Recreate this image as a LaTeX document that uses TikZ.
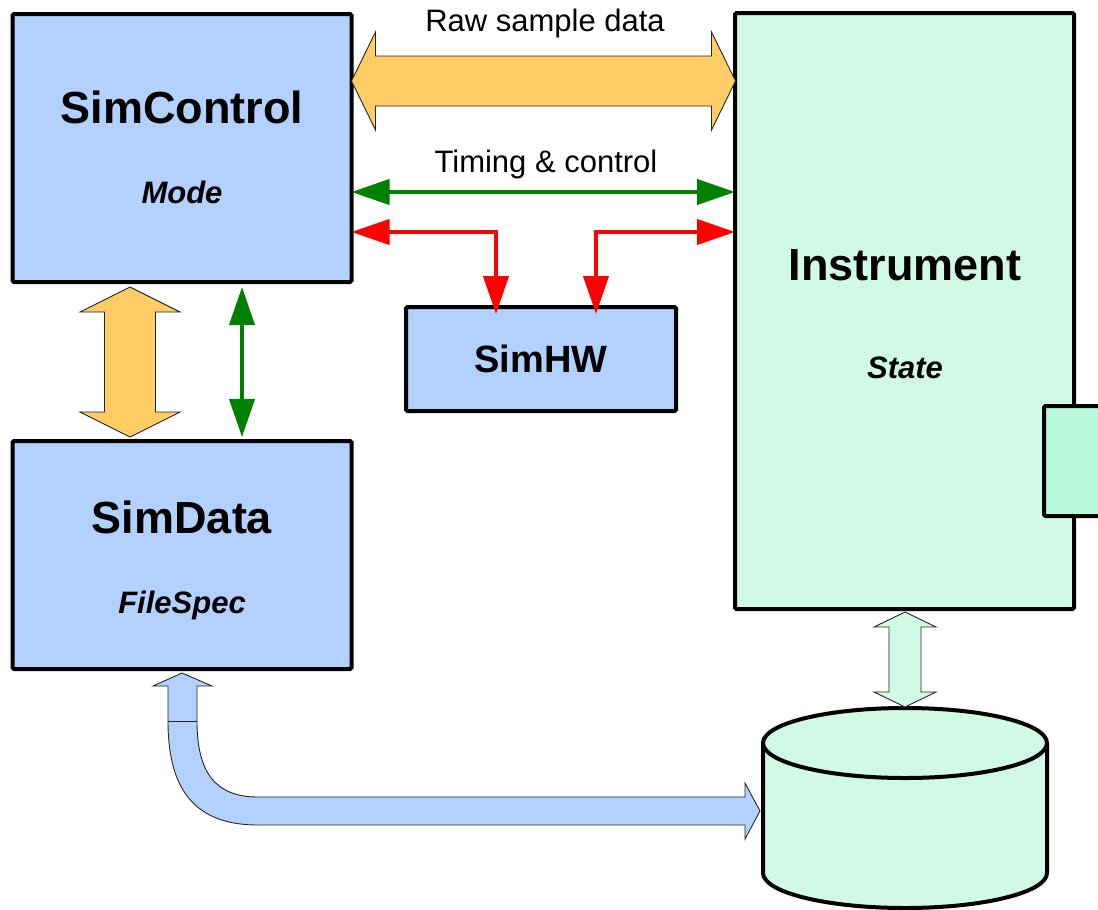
\documentclass[tikz,border=0pt]{standalone}
\usepackage{fontspec}
\setmainfont{Liberation Sans}
\usetikzlibrary{positioning,arrows.meta,calc}
\definecolor{simblue}{HTML}{B3D1FF}
\definecolor{simgreen}{HTML}{D0FAE6}
\definecolor{simport}{HTML}{B9F8DA}
\definecolor{simorange}{HTML}{FFCC66}
\definecolor{ctlgreen}{HTML}{008000}
\definecolor{ctlred}{HTML}{FF0000}

% fat double arrow: style, start tip, angle, length, shaft half, head half, head length
\newcommand{\fatarrow}[7]{%
  \draw[#1, shift={#2}, rotate=#3] (0,0) -- (#7,#6) -- (#7,#5) -- (#4-#7,#5)
    -- (#4-#7,#6) -- (#4,0) -- (#4-#7,-#6) -- (#4-#7,-#5) -- (#7,-#5)
    -- (#7,-#6) -- cycle;}

\tikzset{
  simbox/.style={draw, line width=4pt, fill=simblue, rounded corners=1.5pt,
    inner sep=0pt, outer sep=0pt},
  instbox/.style={simbox, fill=simgreen},
  portbox/.style={simbox, fill=simport},
  bigtitle/.style={font=\fontsize{45}{50}\selectfont\bfseries, inner sep=0pt},
  hwtitle/.style={font=\fontsize{38}{44}\selectfont\bfseries, inner sep=0pt},
  subtitle/.style={font=\fontsize{31}{36}\selectfont\bfseries\itshape, inner sep=0pt},
  edgelabel/.style={font=\fontsize{31}{36}\selectfont, inner sep=0pt},
  bus/.style={draw=black!85, line width=0.9pt, line join=miter},
  ctrlline/.style={line width=4pt, {Triangle[length=38pt,width=25pt]}-{Triangle[length=38pt,width=25pt]}},
}

\begin{document}
\begin{tikzpicture}[x=1pt, y=-1pt]
  \useasboundingbox (0,0) rectangle (1098,910);

  % blocks
  \node[simbox, minimum width=339pt, minimum height=268pt] (ctl) at (182,148) {};
  \node[simbox, minimum width=270pt, minimum height=104pt] (hw) at (541,359) {};
  \node[simbox, minimum width=339pt, minimum height=228pt] (dat) at (182,555) {};
  \node[instbox, minimum width=339pt, minimum height=596pt] (inst) at (904.5,311) {};
  \node[portbox, minimum width=66pt, minimum height=110pt] (port) at (1077,461) {};

  \node[bigtitle, anchor=base] (ctlname) at (182,123) {SimControl};
  \node[subtitle, anchor=base] (ctlmode) at (182,203) {Mode};
  \node[hwtitle, anchor=base] (hwname) at (541,372) {SimHW};
  \node[bigtitle, anchor=base] (datname) at (182,533) {SimData};
  \node[subtitle, anchor=base] (datspec) at (182,613) {FileSpec};
  \node[bigtitle, anchor=base] (instname) at (905,280) {Instrument};
  \node[subtitle, anchor=base] (inststate) at (905,378) {State};

  % disk
  \fill[simgreen] (763,743) -- (763,873) arc[start angle=180, end angle=0, x radius=142, y radius=35] -- (1047,743) -- cycle;
  \draw[line width=4pt] (763,743) -- (763,873) arc[start angle=180, end angle=0, x radius=142, y radius=35] -- (1047,743);
  \draw[line width=4pt, fill=simgreen] (905,743) ellipse[x radius=142, y radius=35];
  \coordinate (disktop) at (905,707);

  % data paths
  \coordinate (rawL) at (ctl.east |- 0,81);
  \fatarrow{bus, fill=simorange}{(rawL)}{0}{384}{25}{49}{24}
  \node[edgelabel, anchor=base] (rawlbl) at (545,31) {Raw sample data};

  \coordinate (ctlbus) at (130,287);
  \fatarrow{bus, fill=simorange}{(ctlbus)}{-90}{150}{25.5}{50}{25}

  \coordinate (instbus) at (inst.south -| 905,0);
  \fatarrow{bus, fill=simgreen}{([yshift=-3pt]instbus)}{-90}{95}{16}{31}{15}

  % file path to disk
  \draw[bus, fill=simblue] (182,673) -- (212,686) -- (197,686) -- (197,721)
    .. controls (197,772) and (215,797) .. (258,797) -- (745,797) -- (745,783)
    -- (760,811) -- (745,839) -- (745,825) -- (258,825)
    .. controls (195,825) and (168,790) .. (168,721) -- (168,686) -- (153,686) -- cycle;
  \draw[bus] (168,721) -- (197,721);

  % timing and control
  \draw[ctrlline, ctlgreen] (ctl.east |- 0,192) -- (inst.west |- 0,192);
  \node[edgelabel, anchor=base] (timelbl) at (546,172) {Timing \& control};
  \draw[ctrlline, ctlgreen] (242,287) -- (242,437);

  \coordinate (hwinL) at ([xshift=-45pt, yshift=-7pt]hw.north);
  \coordinate (hwinR) at ([xshift=55pt, yshift=-7pt]hw.north);
  \draw[ctrlline, ctlred] (ctl.east |- 0,232) -| (hwinL);
  \draw[ctrlline, ctlred] (inst.west |- 0,232) -| (hwinR);
\end{tikzpicture}
\end{document}
